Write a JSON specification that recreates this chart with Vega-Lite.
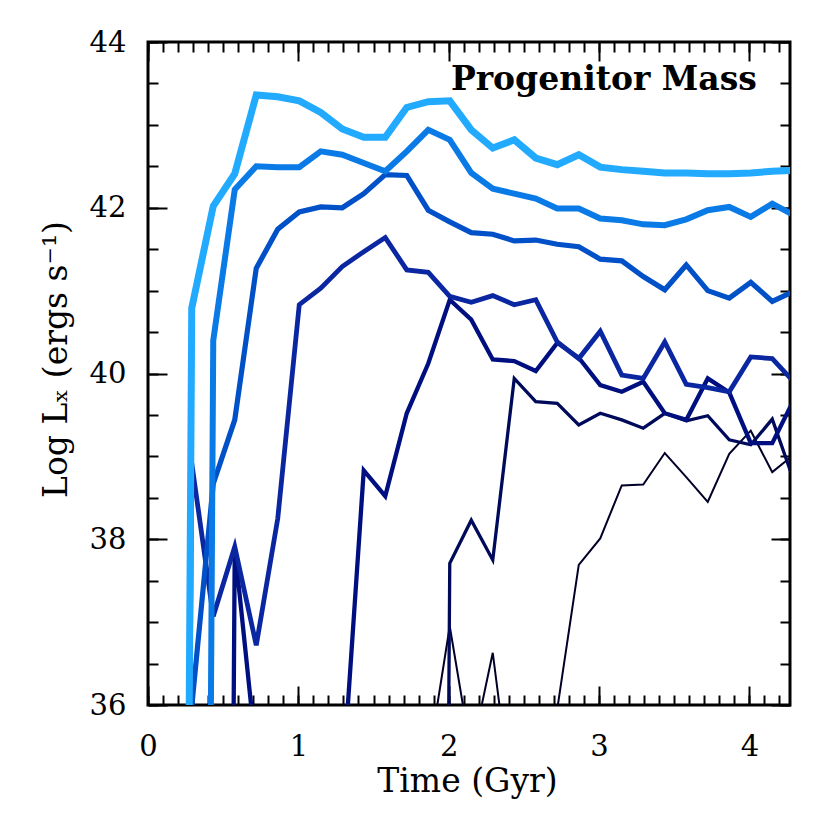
{
  "$schema": "https://vega.github.io/schema/vega-lite/v6.json",
  "autosize": {"type": "none"},
  "padding": {"left": 148, "top": 42, "right": 40, "bottom": 125},
  "width": 642,
  "height": 663,
  "background": "white",
  "config": {
    "view": {"stroke": "black", "strokeWidth": 3},
    "font": "DejaVu Serif"
  },
  "data": {"values": [
    {"s":"g","t":1.721,"v":0},{"s":"g","t":1.864,"v":35.31},{"s":"g","t":2.007,"v":36.95},{"s":"g","t":2.15,"v":35.4},{"s":"g","t":2.293,"v":36.63},{"s":"g","t":2.436,"v":34.6},{"s":"g","t":2.579,"v":0},{"s":"g","t":2.722,"v":35.95},{"s":"g","t":2.865,"v":37.69},{"s":"g","t":3.008,"v":38.01},{"s":"g","t":3.151,"v":38.65},{"s":"g","t":3.294,"v":38.66},{"s":"g","t":3.437,"v":39.04},{"s":"g","t":3.58,"v":38.75},{"s":"g","t":3.723,"v":38.45},{"s":"g","t":3.866,"v":39.03},{"s":"g","t":4.009,"v":39.31},{"s":"g","t":4.152,"v":38.81},{"s":"g","t":4.295,"v":39.02},
    {"s":"f","t":1.864,"v":0},{"s":"f","t":2.007,"v":37.71},{"s":"f","t":2.15,"v":38.23},{"s":"f","t":2.293,"v":37.75},{"s":"f","t":2.436,"v":39.94},{"s":"f","t":2.579,"v":39.66},{"s":"f","t":2.722,"v":39.64},{"s":"f","t":2.865,"v":39.38},{"s":"f","t":3.008,"v":39.52},{"s":"f","t":3.151,"v":39.44},{"s":"f","t":3.294,"v":39.34},{"s":"f","t":3.437,"v":39.52},{"s":"f","t":3.58,"v":39.43},{"s":"f","t":3.723,"v":39.49},{"s":"f","t":3.866,"v":39.2},{"s":"f","t":4.009,"v":39.14},{"s":"f","t":4.152,"v":39.45},{"s":"f","t":4.295,"v":38.71},
    {"s":"e","t":0.434,"v":0},{"s":"e","t":0.577,"v":37.9},{"s":"e","t":0.72,"v":35.4},{"s":"e","t":0.863,"v":0},{"s":"e","t":1.006,"v":0},{"s":"e","t":1.149,"v":0},{"s":"e","t":1.292,"v":35.0},{"s":"e","t":1.435,"v":38.83},{"s":"e","t":1.578,"v":38.52},{"s":"e","t":1.721,"v":39.52},{"s":"e","t":1.864,"v":40.12},{"s":"e","t":2.007,"v":40.89},{"s":"e","t":2.15,"v":40.65},{"s":"e","t":2.293,"v":40.17},{"s":"e","t":2.436,"v":40.15},{"s":"e","t":2.579,"v":40.03},{"s":"e","t":2.722,"v":40.37},{"s":"e","t":2.865,"v":40.19},{"s":"e","t":3.008,"v":39.86},{"s":"e","t":3.151,"v":39.78},{"s":"e","t":3.294,"v":39.9},{"s":"e","t":3.437,"v":39.52},{"s":"e","t":3.58,"v":39.44},{"s":"e","t":3.723,"v":39.94},{"s":"e","t":3.866,"v":39.77},{"s":"e","t":4.009,"v":39.16},{"s":"e","t":4.152,"v":39.16},{"s":"e","t":4.295,"v":39.68},
    {"s":"d","t":0.148,"v":0},{"s":"d","t":0.291,"v":38.92},{"s":"d","t":0.434,"v":37.07},{"s":"d","t":0.577,"v":37.91},{"s":"d","t":0.72,"v":36.72},{"s":"d","t":0.863,"v":38.25},{"s":"d","t":1.006,"v":40.83},{"s":"d","t":1.149,"v":41.03},{"s":"d","t":1.292,"v":41.29},{"s":"d","t":1.435,"v":41.47},{"s":"d","t":1.578,"v":41.64},{"s":"d","t":1.721,"v":41.25},{"s":"d","t":1.864,"v":41.22},{"s":"d","t":2.007,"v":40.93},{"s":"d","t":2.15,"v":40.86},{"s":"d","t":2.293,"v":40.94},{"s":"d","t":2.436,"v":40.83},{"s":"d","t":2.579,"v":40.89},{"s":"d","t":2.722,"v":40.38},{"s":"d","t":2.865,"v":40.18},{"s":"d","t":3.008,"v":40.51},{"s":"d","t":3.151,"v":39.98},{"s":"d","t":3.294,"v":39.94},{"s":"d","t":3.437,"v":40.38},{"s":"d","t":3.58,"v":39.87},{"s":"d","t":3.723,"v":39.83},{"s":"d","t":3.866,"v":39.78},{"s":"d","t":4.009,"v":40.2},{"s":"d","t":4.152,"v":40.18},{"s":"d","t":4.295,"v":39.9},
    {"s":"c","t":0.291,"v":35.98},{"s":"c","t":0.434,"v":38.67},{"s":"c","t":0.577,"v":39.44},{"s":"c","t":0.72,"v":41.27},{"s":"c","t":0.863,"v":41.74},{"s":"c","t":1.006,"v":41.95},{"s":"c","t":1.149,"v":42.01},{"s":"c","t":1.292,"v":42.0},{"s":"c","t":1.435,"v":42.17},{"s":"c","t":1.578,"v":42.4},{"s":"c","t":1.721,"v":42.39},{"s":"c","t":1.864,"v":41.97},{"s":"c","t":2.007,"v":41.83},{"s":"c","t":2.15,"v":41.7},{"s":"c","t":2.293,"v":41.68},{"s":"c","t":2.436,"v":41.6},{"s":"c","t":2.579,"v":41.61},{"s":"c","t":2.722,"v":41.56},{"s":"c","t":2.865,"v":41.53},{"s":"c","t":3.008,"v":41.38},{"s":"c","t":3.151,"v":41.36},{"s":"c","t":3.294,"v":41.17},{"s":"c","t":3.437,"v":41.01},{"s":"c","t":3.58,"v":41.31},{"s":"c","t":3.723,"v":41.0},{"s":"c","t":3.866,"v":40.91},{"s":"c","t":4.009,"v":41.1},{"s":"c","t":4.152,"v":40.87},{"s":"c","t":4.295,"v":40.99},
    {"s":"b","t":0.291,"v":0},{"s":"b","t":0.434,"v":40.4},{"s":"b","t":0.577,"v":42.22},{"s":"b","t":0.72,"v":42.5},{"s":"b","t":0.863,"v":42.49},{"s":"b","t":1.006,"v":42.49},{"s":"b","t":1.149,"v":42.68},{"s":"b","t":1.292,"v":42.64},{"s":"b","t":1.435,"v":42.54},{"s":"b","t":1.578,"v":42.44},{"s":"b","t":1.721,"v":42.68},{"s":"b","t":1.864,"v":42.94},{"s":"b","t":2.007,"v":42.82},{"s":"b","t":2.15,"v":42.42},{"s":"b","t":2.293,"v":42.23},{"s":"b","t":2.436,"v":42.17},{"s":"b","t":2.579,"v":42.11},{"s":"b","t":2.722,"v":41.99},{"s":"b","t":2.865,"v":41.99},{"s":"b","t":3.008,"v":41.87},{"s":"b","t":3.151,"v":41.85},{"s":"b","t":3.294,"v":41.8},{"s":"b","t":3.437,"v":41.79},{"s":"b","t":3.58,"v":41.86},{"s":"b","t":3.723,"v":41.97},{"s":"b","t":3.866,"v":42.01},{"s":"b","t":4.009,"v":41.89},{"s":"b","t":4.152,"v":42.05},{"s":"b","t":4.295,"v":41.91},
    {"s":"a","t":0.148,"v":0},{"s":"a","t":0.291,"v":40.79},{"s":"a","t":0.434,"v":42.02},{"s":"a","t":0.577,"v":42.41},{"s":"a","t":0.72,"v":43.36},{"s":"a","t":0.863,"v":43.34},{"s":"a","t":1.006,"v":43.29},{"s":"a","t":1.149,"v":43.15},{"s":"a","t":1.292,"v":42.95},{"s":"a","t":1.435,"v":42.85},{"s":"a","t":1.578,"v":42.85},{"s":"a","t":1.721,"v":43.21},{"s":"a","t":1.864,"v":43.28},{"s":"a","t":2.007,"v":43.29},{"s":"a","t":2.15,"v":42.94},{"s":"a","t":2.293,"v":42.72},{"s":"a","t":2.436,"v":42.82},{"s":"a","t":2.579,"v":42.6},{"s":"a","t":2.722,"v":42.52},{"s":"a","t":2.865,"v":42.64},{"s":"a","t":3.008,"v":42.49},{"s":"a","t":3.151,"v":42.46},{"s":"a","t":3.294,"v":42.44},{"s":"a","t":3.437,"v":42.42},{"s":"a","t":3.58,"v":42.42},{"s":"a","t":3.723,"v":42.41},{"s":"a","t":3.866,"v":42.41},{"s":"a","t":4.009,"v":42.42},{"s":"a","t":4.152,"v":42.44},{"s":"a","t":4.295,"v":42.45}
  ]},
  "layer": [
    {
      "mark": {"type": "line", "clip": true, "strokeCap": "butt", "strokeJoin": "miter"},
      "encoding": {
        "x": {"field": "t", "type": "quantitative", "scale": {"domain": [0, 4.27], "nice": false, "zero": false},
          "axis": {"orient": "bottom", "values": [0, 1, 2, 3, 4], "tickSize": -19, "tickWidth": 2, "tickColor": "black", "domain": false, "grid": false,
            "labelFont": "DejaVu Serif", "labelFontSize": 29, "labelColor": "black", "labelPadding": 46, "labelFlush": false, "labelOverlap": false,
            "title": "Time (Gyr)", "titleFont": "DejaVu Serif", "titleFontSize": 33, "titleFontWeight": "normal", "titleColor": "black", "titleX": 319, "titleY": 76, "titleBaseline": "middle"}},
        "y": {"field": "v", "type": "quantitative", "scale": {"domain": [36, 44], "nice": false, "zero": false},
          "axis": {"orient": "left", "values": [36, 38, 40, 42, 44], "tickSize": -19, "tickWidth": 2, "tickColor": "black", "domain": false, "grid": false,
            "labelFont": "DejaVu Serif", "labelFontSize": 29, "labelColor": "black", "labelPadding": 41, "labelFlush": false, "labelOverlap": false,
            "title": "Log Lₓ (ergs s⁻¹)", "titleFont": "DejaVu Serif", "titleFontSize": 33, "titleFontWeight": "normal", "titleColor": "black", "titleX": -92, "titleY": 317, "titleBaseline": "middle", "titleAngle": -90}},
        "color": {"field": "s", "type": "nominal", "scale": {"domain": ["a", "b", "c", "d", "e", "f", "g"], "range": ["#22aaff", "#0a7ae6", "#0050c8", "#0a26a0", "#000f80", "#000a5a", "#000028"]}, "legend": null},
        "strokeWidth": {"field": "s", "type": "nominal", "scale": {"type": "ordinal", "domain": ["a", "b", "c", "d", "e", "f", "g"], "range": [7, 6, 5.2, 4.8, 4.3, 3.3, 2]}, "legend": null}
      }
    },
    {
      "mark": {"type": "point", "opacity": 0, "clip": true},
      "encoding": {
        "x": {"field": "t", "type": "quantitative", "scale": {"domain": [0, 4.27], "nice": false, "zero": false},
          "axis": {"orient": "bottom", "values": [0,0.1,0.2,0.3,0.4,0.5,0.6,0.7,0.8,0.9,1,1.1,1.2,1.3,1.4,1.5,1.6,1.7,1.8,1.9,2,2.1,2.2,2.3,2.4,2.5,2.6,2.7,2.8,2.9,3,3.1,3.2,3.3,3.4,3.5,3.6,3.7,3.8,3.9,4,4.1,4.2], "tickSize": -10, "tickWidth": 2, "tickColor": "black", "domain": false, "grid": false, "labels": false, "title": null}},
        "y": {"field": "v", "type": "quantitative", "scale": {"domain": [36, 44], "nice": false, "zero": false},
          "axis": {"orient": "left", "values": [36,36.5,37,37.5,38,38.5,39,39.5,40,40.5,41,41.5,42,42.5,43,43.5,44], "tickSize": -10, "tickWidth": 2, "tickColor": "black", "domain": false, "grid": false, "labels": false, "title": null}}
      }
    },
    {
      "mark": {"type": "point", "opacity": 0, "clip": true},
      "encoding": {
        "x": {"field": "t", "type": "quantitative", "scale": {"domain": [0, 4.27], "nice": false, "zero": false},
          "axis": {"orient": "top", "values": [0, 1, 2, 3, 4], "tickSize": -19, "tickWidth": 2, "tickColor": "black", "domain": false, "grid": false, "labels": false, "title": null}},
        "y": {"field": "v", "type": "quantitative", "scale": {"domain": [36, 44], "nice": false, "zero": false},
          "axis": {"orient": "right", "values": [36, 38, 40, 42, 44], "tickSize": -19, "tickWidth": 2, "tickColor": "black", "domain": false, "grid": false, "labels": false, "title": null}}
      }
    },
    {
      "mark": {"type": "point", "opacity": 0, "clip": true},
      "encoding": {
        "x": {"field": "t", "type": "quantitative", "scale": {"domain": [0, 4.27], "nice": false, "zero": false},
          "axis": {"orient": "top", "values": [0,0.1,0.2,0.3,0.4,0.5,0.6,0.7,0.8,0.9,1,1.1,1.2,1.3,1.4,1.5,1.6,1.7,1.8,1.9,2,2.1,2.2,2.3,2.4,2.5,2.6,2.7,2.8,2.9,3,3.1,3.2,3.3,3.4,3.5,3.6,3.7,3.8,3.9,4,4.1,4.2], "tickSize": -10, "tickWidth": 2, "tickColor": "black", "domain": false, "grid": false, "labels": false, "title": null}},
        "y": {"field": "v", "type": "quantitative", "scale": {"domain": [36, 44], "nice": false, "zero": false},
          "axis": {"orient": "right", "values": [36,36.5,37,37.5,38,38.5,39,39.5,40,40.5,41,41.5,42,42.5,43,43.5,44], "tickSize": -10, "tickWidth": 2, "tickColor": "black", "domain": false, "grid": false, "labels": false, "title": null}}
      }
    },
    {
      "data": {"values": [{"label": "Progenitor Mass", "t": 4.05, "v": 43.42}]},
      "mark": {"type": "text", "align": "right", "baseline": "alphabetic", "font": "DejaVu Serif", "fontSize": 33, "fontWeight": "bold", "color": "black"},
      "encoding": {
        "x": {"field": "t", "type": "quantitative", "axis": null},
        "y": {"field": "v", "type": "quantitative", "axis": null},
        "text": {"field": "label"}
      }
    }
  ],
  "resolve": {"axis": {"x": "independent", "y": "independent"}}
}
